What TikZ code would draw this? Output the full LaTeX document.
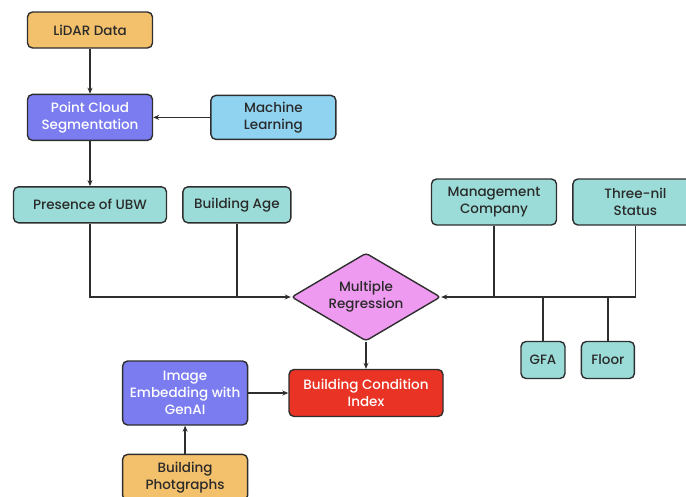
\documentclass[tikz,border=0pt]{standalone}
\usepackage{fontspec}
\setmainfont{Poppins}[UprightFont={* Medium}]
\usetikzlibrary{shapes.geometric, positioning, arrows.meta}
\definecolor{lidarorange}{HTML}{F3C06B}
\definecolor{segblue}{HTML}{7A7CF0}
\definecolor{mlblue}{HTML}{8FD3F1}
\definecolor{factteal}{HTML}{9BDCD8}
\definecolor{regpink}{HTML}{EE9AF0}
\definecolor{bcired}{HTML}{E83325}
\definecolor{edgegray}{HTML}{2E2E2E}
\definecolor{txtgray}{HTML}{2A2A2A}

\begin{document}
\begin{tikzpicture}[x=1pt, y=-1pt,
  box/.style={draw=edgegray, line width=1.4pt, rounded corners=5pt, minimum width=125pt, minimum height=36pt, align=center, inner sep=2pt, text=txtgray, font=\fontsize{13.5}{17}\selectfont},
  srcbox/.style={box, fill=lidarorange},
  procbox/.style={box, fill=segblue, minimum height=46pt, text=white},
  factbox/.style={box, fill=factteal},
  regdec/.style={draw=edgegray, line width=1.4pt, diamond, aspect=1.7, rounded corners=3pt, fill=regpink, minimum width=149pt, minimum height=88pt, inner sep=0pt, align=center, text=txtgray, font=\fontsize{13.5}{17}\selectfont},
  link/.style={draw=edgegray, line width=1.3pt},
  >={Stealth[length=6pt, width=5pt]}]
  \useasboundingbox (0,0) rectangle (686,496);
  \node[srcbox] (lidar) at (90,30) {LiDAR Data};
  \node[procbox, below=45pt of lidar] (pcs) {Point Cloud\\Segmentation};
  \node[box, fill=mlblue, minimum height=44pt, right=57pt of pcs] (ml) {Machine\\Learning};
  \node[factbox, minimum width=153pt, below=45pt of pcs] (ubw) {Presence of UBW};
  \node[factbox, minimum width=108pt, right=15pt of ubw] (age) {Building Age};
  \node[factbox, minimum height=46pt] (mgmt) at (494,202) {Management\\Company};
  \node[factbox, minimum height=46pt, right=15pt of mgmt] (status) {Three-nil\\Status};
  \node[regdec] (reg) at (366,297) {Multiple\\Regression};
  \node[factbox, minimum width=44pt, minimum height=37pt] (gfa) at (543,360) {GFA};
  \node[factbox, minimum width=53pt, minimum height=37pt, right=15pt of gfa] (floor) {Floor};
  \node[box, fill=bcired, text=white, minimum width=154pt, minimum height=47pt] (bci) at (366,393) {Building Condition\\Index};
  \node[procbox, minimum height=64pt, left=40pt of bci] (genai) {Image\\Embedding with\\GenAI};
  \node[srcbox, minimum height=46pt, below=28pt of genai] (photo) {Building\\Photgraphs};

  \draw[link, ->] (lidar) -- (pcs);
  \draw[link, ->] (ml) -- (pcs);
  \draw[link, ->] (pcs) -- (ubw);
  \draw[link, ->] (ubw.south) |- (reg.west);
  \draw[link] (age.south) -- (age.south |- reg.west);
  \draw[link, ->] (status.south) |- (reg.east);
  \draw[link] (mgmt.south) -- (mgmt.south |- reg.east);
  \draw[link] (gfa.north) -- (gfa.north |- reg.east);
  \draw[link] (floor.north) -- (floor.north |- reg.east);
  \draw[link, ->] (reg) -- (bci);
  \draw[link, ->] (genai) -- (bci);
  \draw[link, ->] (photo) -- (genai);
\end{tikzpicture}
\end{document}
